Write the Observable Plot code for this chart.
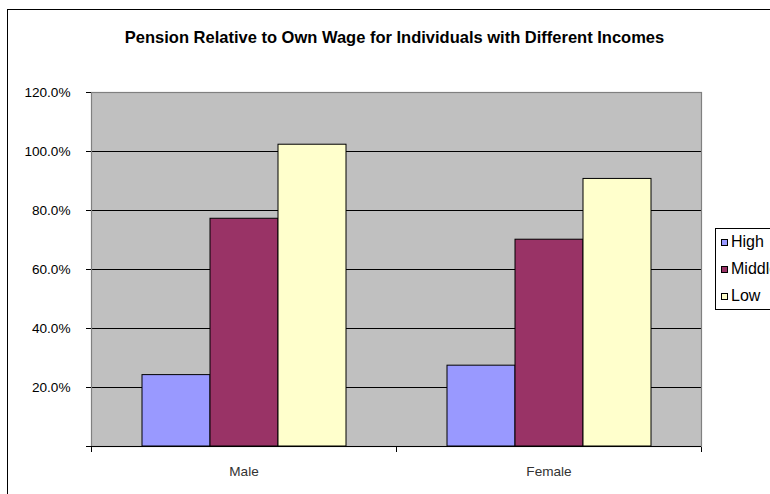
<!DOCTYPE html>
<html>
<head>
<meta charset="utf-8">
<script src="https://cdn.jsdelivr.net/npm/d3@7"></script>
<script src="https://cdn.jsdelivr.net/npm/@observablehq/plot@0.6"></script>
<style>
  html, body { margin: 0; padding: 0; background: #fff; overflow: hidden; }
  #chart { position: relative; width: 770px; height: 494px; font-family: "Liberation Sans", Arial, sans-serif; }
  #box { position: absolute; left: 7px; top: 9px; width: 800px; height: 520px; border-left: 1.5px solid #000; border-top: 1.5px solid #000; }
  #title { position: absolute; left: 7px; width: 775px; top: 28px; text-align: center; font-weight: bold; font-size: 16.5px; color: #000; }
  #plot { position: absolute; left: 0; top: 0; }
  #legend { position: absolute; left: 715px; top: 228px; width: 70px; height: 80px; border: 1px solid #000; background: #fff; font-size: 16px; color: #000; }
  .item { position: absolute; left: 5px; display: flex; align-items: center; height: 18px; white-space: nowrap; }
  .sw { width: 5px; height: 5px; border: 1px solid #000; margin-right: 3px; }
</style>
</head>
<body>
<div id="chart">
  <div id="box"></div>
  <div id="title"></div>
  <div id="plot"></div>
  <div id="legend"></div>
</div>
<script>
const title = "Pension Relative to Own Wage for Individuals with Different Incomes";
const categories = ["Male", "Female"];
const series = ["High", "Middle", "Low"];
const high = [24.2, 27.4];
const middle = [77.2, 70.1];
const low = [102.3, 90.7];
const yTicks = [0, 20, 40, 60, 80, 100, 120];
const colors = ["#9999ff", "#993366", "#ffffcc"];

const values = {High: high, Middle: middle, Low: low};
const rows = [];
categories.forEach((c, i) => series.forEach(s => rows.push({category: c, series: s, value: values[s][i]})));

document.getElementById("title").textContent = title;

const chart = Plot.plot({
  width: 770,
  height: 494,
  marginLeft: 90,
  marginRight: 69,
  marginTop: 92,
  marginBottom: 48,
  style: {fontFamily: "'Liberation Sans', Arial, sans-serif", fontSize: "13.6px", color: "#000", background: "transparent", overflow: "visible"},
  fx: {domain: categories, padding: 0},
  x: {domain: series, paddingInner: 0, paddingOuter: 0.73, axis: null},
  y: {domain: [0, 120]},
  color: {domain: series, range: colors},
  marks: [
    // category boundary ticks below the baseline; the plot fill hides the part inside
    Plot.frame({anchor: "left", stroke: "#000", insetBottom: -5}),
    Plot.frame({anchor: "right", stroke: "#000", insetBottom: -5}),
    Plot.frame({facet: "super", fill: "#c0c0c0"}),
    Plot.ruleY(yTicks.filter(d => d > 0 && d < 120), {stroke: "#000", strokeWidth: 1}),
    Plot.frame({facet: "super", stroke: "#808080", strokeWidth: 1.2}),
    Plot.barY(rows, {fx: "category", x: "series", y: "value", fill: "series", stroke: "#000", strokeWidth: 1}),
    Plot.ruleY([0], {stroke: "#000"}),
    Plot.axisY({ticks: yTicks, tickSize: 5, tickPadding: 16, tickFormat: d => d === 0 ? "" : d.toFixed(1) + "%", label: null, stroke: "#000"}),
    Plot.axisFx({anchor: "bottom", tickSize: 0, tickPadding: 20, label: null, fill: "#333"})
  ]
});
document.getElementById("plot").appendChild(chart);

// legend
const legend = document.getElementById("legend");
series.forEach((s, i) => {
  const item = document.createElement("div");
  item.className = "item";
  item.style.top = (4 + i * 27) + "px";
  const sw = document.createElement("div");
  sw.className = "sw";
  sw.style.background = colors[i];
  const label = document.createElement("span");
  label.textContent = s;
  item.appendChild(sw);
  item.appendChild(label);
  legend.appendChild(item);
});
</script>
</body>
</html>
